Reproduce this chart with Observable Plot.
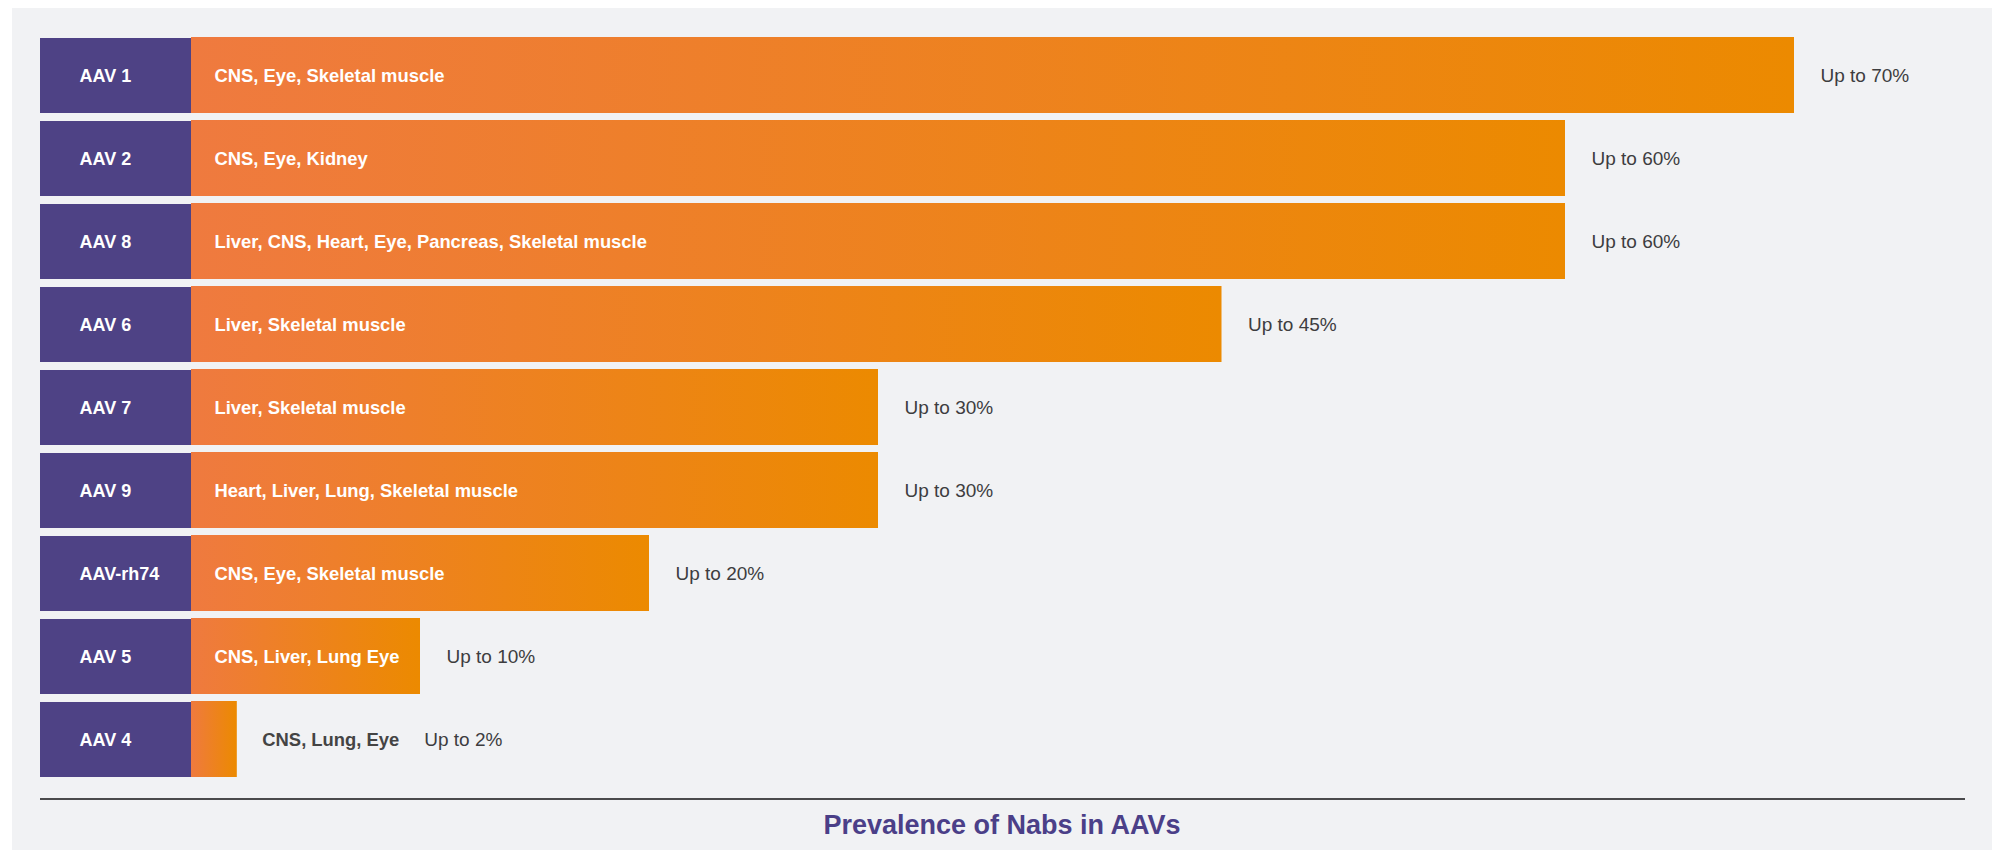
<!DOCTYPE html>
<html>
<head>
<meta charset="utf-8">
<script src="https://cdn.jsdelivr.net/npm/d3@7"></script>
<script src="https://cdn.jsdelivr.net/npm/@observablehq/plot@0.6"></script>
<style>
  html, body { margin: 0; padding: 0; background: #ffffff; }
  body { width: 1996px; height: 853px; position: relative; overflow: hidden; font-family: "Liberation Sans", Arial, Helvetica, sans-serif; }
  #panel { position: absolute; left: 12px; top: 8px; width: 1980px; height: 842px; background: #f1f2f4; }
  #chart { position: absolute; left: 0; top: 0; }
  #rule { position: absolute; left: 40px; top: 798px; width: 1925px; height: 2px; background: #4a4a4c; }
  #title { position: absolute; left: 12px; top: 809px; width: 1980px; text-align: center; font-size: 27px; font-weight: bold; color: #4b3f88; line-height: 32px; }
</style>
</head>
<body>
<div id="panel"></div>
<div id="chart"></div>
<div id="rule"></div>
<div id="title">Prevalence of Nabs in AAVs</div>
<script>
// ---- data ----
const serotypes = ["AAV 1", "AAV 2", "AAV 8", "AAV 6", "AAV 7", "AAV 9", "AAV-rh74", "AAV 5", "AAV 4"];
const prevalence = [70, 60, 60, 45, 30, 30, 20, 10, 2];
const tissues = [
  "CNS, Eye, Skeletal muscle",
  "CNS, Eye, Kidney",
  "Liver, CNS, Heart, Eye, Pancreas, Skeletal muscle",
  "Liver, Skeletal muscle",
  "Liver, Skeletal muscle",
  "Heart, Liver, Lung, Skeletal muscle",
  "CNS, Eye, Skeletal muscle",
  "CNS, Liver, Lung Eye",
  "CNS, Lung, Eye"
];
const valueLabels = ["Up to 70%", "Up to 60%", "Up to 60%", "Up to 45%", "Up to 30%", "Up to 30%", "Up to 20%", "Up to 10%", "Up to 2%"];

// ---- layout/style ----
const W = 1996, H = 790;
const marginLeft = 191, marginRight = 202, marginTop = 37, marginBottom = 12;
const FAMILY = "Liberation Sans, Arial, sans-serif";
const TISSUE_SIZE = 18.4, VALUE_SIZE = 19;
const ctx = document.createElement("canvas").getContext("2d");
ctx.font = `bold ${TISSUE_SIZE}px 'Liberation Sans', Arial, sans-serif`;
const textW = s => ctx.measureText(s).width;

const pxPerUnit = (W - marginLeft - marginRight) / 70;
const rows = serotypes.map((s, i) => {
  const barPx = prevalence[i] * pxPerUnit;
  const tw = textW(tissues[i]);
  const inside = barPx >= tw + 30;
  return {
    serotype: s, value: prevalence[i], tissue: tissues[i], label: valueLabels[i],
    inside, labelDx: inside ? 26 : 25 + tw + 25
  };
});
const insideRows = rows.filter(d => d.inside);
const outsideRows = rows.filter(d => !d.inside);

const plot = Plot.plot({
  width: W, height: H,
  marginLeft, marginRight, marginTop, marginBottom,
  style: { background: "transparent", overflow: "visible" },
  x: { domain: [0, 70], axis: null },
  y: { domain: serotypes, axis: null, paddingInner: 0.1, paddingOuter: 0, align: 0.5 },
  marks: [
    // purple label boxes in the left margin
    Plot.barX(rows, { y: "serotype", x1: () => 0, x2: () => 0, insetLeft: -151, fill: "#4e4285" }),
    // gradient definition
    () => {
      const defs = d3.create("svg:defs");
      const g = defs.append("linearGradient").attr("id", "barGrad")
        .attr("x1", "0%").attr("x2", "100%").attr("y1", "0%").attr("y2", "0%");
      g.append("stop").attr("offset", "0%").attr("stop-color", "#ef7a3f");
      g.append("stop").attr("offset", "100%").attr("stop-color", "#ec8a00");
      return defs.node();
    },
    Plot.barX(rows, { y: "serotype", x: "value", fill: "url(#barGrad)", insetTop: -1 }),
    // serotype labels
    Plot.text(rows, { y: "serotype", x: () => 0, text: "serotype", dx: -112, textAnchor: "start",
      fill: "white", fontWeight: "bold", fontSize: 18, fontFamily: FAMILY }),
    // tissue labels inside bars
    Plot.text(insideRows, { y: "serotype", x: () => 0, text: "tissue", dx: 23, textAnchor: "start",
      fill: "white", fontWeight: "bold", fontSize: TISSUE_SIZE, fontFamily: FAMILY }),
    // tissue labels outside short bars
    Plot.text(outsideRows, { y: "serotype", x: "value", text: "tissue", dx: 25, textAnchor: "start",
      fill: "#444444", fontWeight: "bold", fontSize: TISSUE_SIZE, fontFamily: FAMILY }),
    // value labels, bars with inside tissue text
    Plot.text(insideRows, { y: "serotype", x: "value", text: "label", dx: 26, textAnchor: "start",
      fill: "#3d3d3f", fontSize: VALUE_SIZE, fontFamily: FAMILY }),
    // value labels after an outside tissue text
    ...outsideRows.map(d => Plot.text([d], { y: "serotype", x: "value", text: "label", dx: d.labelDx, textAnchor: "start",
      fill: "#3d3d3f", fontSize: VALUE_SIZE, fontFamily: FAMILY }))
  ]
});
document.getElementById("chart").appendChild(plot);
</script>
</body>
</html>
